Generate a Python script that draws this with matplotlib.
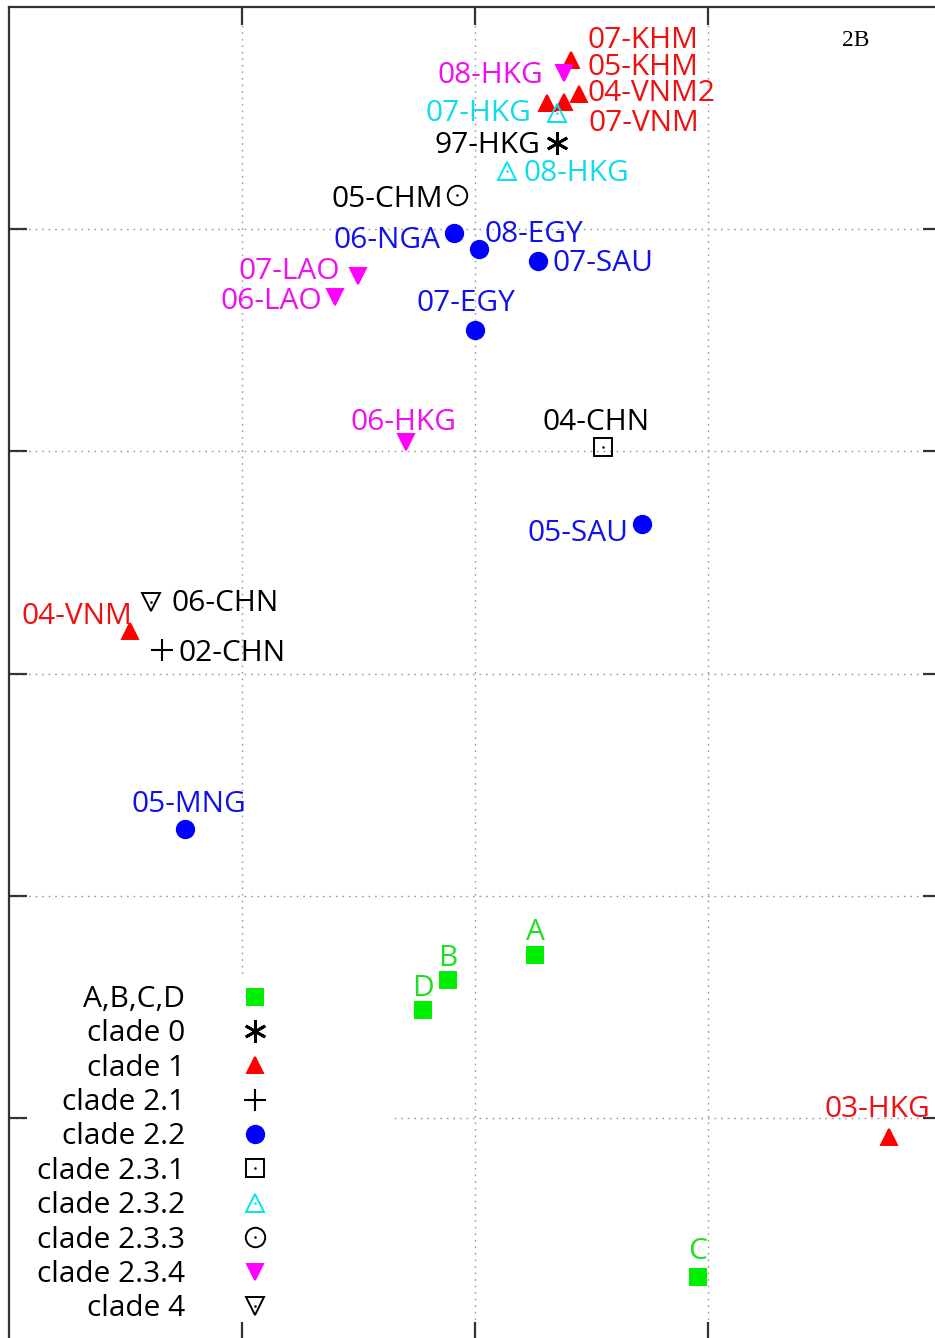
import matplotlib
matplotlib.use("Agg")
import matplotlib.pyplot as plt
from matplotlib.lines import Line2D
from matplotlib.patches import Rectangle
from matplotlib.legend_handler import HandlerTuple

# ---------------- data ----------------
names = ["07-KHM", "05-KHM", "04-VNM2", "07-VNM", "08-HKG", "07-HKG", "97-HKG",
         "08-HKG", "05-CHM", "06-NGA", "08-EGY", "07-SAU", "07-LAO", "06-LAO",
         "07-EGY", "06-HKG", "04-CHN", "05-SAU", "06-CHN", "04-VNM", "02-CHN",
         "05-MNG", "A", "B", "D", "C", "03-HKG"]
xs = [2.412, 2.309, 2.446, 2.382, 2.382, 2.352, 2.352,
      2.137, 1.921, 1.911, 2.017, 2.270, 1.498, 1.399,
      2.000, 1.704, 2.548, 2.717, 0.609, 0.519, 0.657,
      0.755, 2.258, 1.884, 1.777, 2.957, 3.777]
ys = [5.761, 5.568, 5.608, 5.572, 5.703, 5.523, 5.388,
      5.262, 5.154, 4.982, 4.911, 4.857, 4.789, 4.695,
      4.546, 4.042, 4.021, 3.673, 3.322, 3.192, 3.106,
      2.301, 1.734, 1.621, 1.486, 0.284, 0.915]
clades = ["clade 1", "clade 1", "clade 1", "clade 1", "clade 2.3.4", "clade 2.3.2", "clade 0",
          "clade 2.3.2", "clade 2.3.3", "clade 2.2", "clade 2.2", "clade 2.2", "clade 2.3.4", "clade 2.3.4",
          "clade 2.2", "clade 2.3.4", "clade 2.3.1", "clade 2.2", "clade 4", "clade 1", "clade 2.1",
          "clade 2.2", "A,B,C,D", "A,B,C,D", "A,B,C,D", "A,B,C,D", "clade 1"]
legend_order = ["A,B,C,D", "clade 0", "clade 1", "clade 2.1", "clade 2.2",
                "clade 2.3.1", "clade 2.3.2", "clade 2.3.3", "clade 2.3.4", "clade 4"]

# ---------------- styles ----------------
styles = {
    "A,B,C,D":     dict(marker="s", color="#00ee00", ms=12, filled=True, dot=False),
    "clade 0":     dict(marker=(6, 2, 0), color="black", ms=16, filled=False, dot=False, mew=2.0),
    "clade 1":     dict(marker="^", color="#ff0000", ms=11, filled=True, dot=False),
    "clade 2.1":   dict(marker="+", color="black", ms=16, filled=False, dot=False, mew=1.5),
    "clade 2.2":   dict(marker="o", color="#0000ff", ms=12.5, filled=True, dot=False),
    "clade 2.3.1": dict(marker="s", color="black", ms=13, filled=False, dot=True),
    "clade 2.3.2": dict(marker="^", color="#00e5ee", ms=13, filled=False, dot=True),
    "clade 2.3.3": dict(marker="o", color="black", ms=14, filled=False, dot=True),
    "clade 2.3.4": dict(marker="v", color="#ff00ff", ms=11, filled=True, dot=False),
    "clade 4":     dict(marker="v", color="black", ms=13, filled=False, dot=True),
}
text_colors = {
    "A,B,C,D": "#22dd22", "clade 0": "black", "clade 1": "#ee1111", "clade 2.1": "black",
    "clade 2.2": "#1111ee", "clade 2.3.1": "black", "clade 2.3.2": "#11dde8",
    "clade 2.3.3": "black", "clade 2.3.4": "#ee11ee", "clade 4": "black",
}
# label placement: (ha, dx px, dy px of label centre relative to point; dy up-positive)
label_pos = {
    0: ("left", 17, 23), 1: ("left", 41, 39), 2: ("left", 9, 4), 3: ("left", 24, -18),
    4: ("right", -21, 1), 5: ("right", -26, 3), 6: ("right", -17, 1), 7: ("left", 17, 1),
    8: ("right", -14, -1), 9: ("right", -14, -4), 10: ("left", 6, 18), 11: ("left", 15, 1),
    12: ("right", -18, 8), 13: ("right", -13, -1), 14: ("center", -9, 30), 15: ("center", -3, 23),
    16: ("center", -7, 28), 17: ("right", -14, -6), 18: ("left", 21, 2), 19: ("right", 2, 18),
    20: ("left", 16, 0), 21: ("center", 4, 28), 22: ("center", 0, 26), 23: ("center", 0, 25),
    24: ("center", 0, 25), 25: ("center", 0, 29), 26: ("center", -12, 31),
}

FONT = "Open Sans"
FS = 21.5

W, H = 935, 1338
fig = plt.figure(figsize=(W / 100, H / 100), dpi=100)
ax = fig.add_axes([9 / W, (H - 1340) / H, 932 / W, 1333 / H])
ax.set_xlim(0, 4)
ax.set_ylim(0, 6)
ax.set_xticks([1, 2, 3])
ax.set_yticks([1, 2, 3, 4, 5])
ax.tick_params(direction="in", length=13, width=1.6, color="#333333",
               top=True, right=True, labelbottom=False, labelleft=False)
for s in ax.spines.values():
    s.set_linewidth(1.6)
    s.set_color("#333333")
ax.set_axisbelow(True)
ax.grid(True, color="#999999", linewidth=1.0, linestyle=(0, (1.2, 3.5)))

handles = {}
for clade in legend_order:
    st = styles[clade]
    px = [x for x, c in zip(xs, clades) if c == clade]
    py = [y for y, c in zip(ys, clades) if c == clade]
    kw = dict(linestyle="none", marker=st["marker"], markersize=st["ms"],
              markeredgecolor=st["color"],
              markerfacecolor=st["color"] if st["filled"] else "none",
              markeredgewidth=st.get("mew", 1.4), zorder=3)
    ax.plot(px, py, **kw)
    h = Line2D([], [], **kw)
    if st["dot"]:
        dkw = dict(linestyle="none", marker="o", markersize=1.8, color=st["color"],
                   markeredgewidth=0, zorder=4)
        ax.plot(px, py, **dkw)
        h = (h, Line2D([], [], **dkw))
    handles[clade] = h

for i, (n, x, y, c) in enumerate(zip(names, xs, ys, clades)):
    ha, dx, dy = label_pos[i]
    ax.annotate(n, (x, y), xytext=(dx, dy - 11), textcoords="offset pixels",
                ha=ha, va="baseline", color=text_colors[c], fontsize=FS,
                family=FONT, zorder=5)

ax.text((856 - 9) / 932, (1340 - 40) / 1333, "2B", transform=ax.transAxes,
        ha="center", va="center", fontsize=17, family="Liberation Serif")

# white key box covering the grid
ax.add_patch(Rectangle(((28 - 9) / 932, (1340 - 1322) / 1333),
                       (390 - 28) / 932, (1322 - 978) / 1333,
                       transform=ax.transAxes, facecolor="white", edgecolor="none",
                       zorder=1))

leg = ax.legend([handles[c] for c in legend_order], legend_order,
                loc="upper left", bbox_to_anchor=((37 - 9) / 932, (1340 - 985) / 1333),
                frameon=False, markerfirst=False, borderpad=0, borderaxespad=0,
                handletextpad=1.34, handlelength=2.0, labelspacing=0.18,
                prop=dict(family=FONT, size=FS),
                handler_map={tuple: HandlerTuple(ndivide=1)})

fig.savefig("out.png", dpi=100)
